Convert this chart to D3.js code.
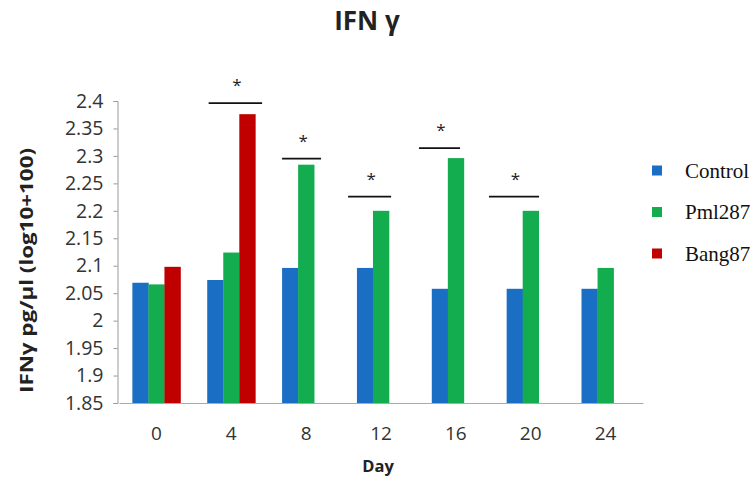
<!DOCTYPE html>
<html>
<head>
<meta charset="utf-8">
<script src="https://cdn.jsdelivr.net/npm/d3@7"></script>
<style>
  html, body { margin: 0; padding: 0; background: #fff; }
  svg { display: block; }
</style>
</head>
<body>
<svg id="chart" width="753" height="481"></svg>
<script>
// IFN-γ levels per sampling day for each group
const days = ["0", "4", "8", "12", "16", "20", "24"];
const seriesNames = ["Control", "Pml287", "Bang87"];
const controlValues = [2.069, 2.074, 2.096, 2.096, 2.058, 2.058, 2.058];
const pml287Values  = [2.066, 2.124, 2.284, 2.200, 2.296, 2.200, 2.096];
const bang87Values  = [2.098, 2.376, null, null, null, null, null];
const yTickValues = [1.85, 1.9, 1.95, 2, 2.05, 2.1, 2.15, 2.2, 2.25, 2.3, 2.35, 2.4];
const yTickLabels = ["1.85", "1.9", "1.95", "2", "2.05", "2.1", "2.15", "2.2", "2.25", "2.3", "2.35", "2.4"];
// significance markers: day and bracket level (in axis units)
const sigDays = ["4", "8", "12", "16", "20"];
const sigLevels = [2.396, 2.295, 2.226, 2.314, 2.226];

const seriesValues = [controlValues, pml287Values, bang87Values];
const colors = ["#1a6fc4", "#13ad4f", "#c00000"];

const svg = d3.select("#chart");

const x = d3.scaleBand().domain(days).range([119, 643])
  .paddingInner(0.357).paddingOuter(0.1785);
const xs = d3.scaleBand().domain(seriesNames).range([0, x.bandwidth()]);
const y = d3.scaleLinear().domain([1.85, 2.4]).range([403, 101]);

// bars
const rows = [];
days.forEach((d, i) => seriesNames.forEach((s, j) => {
  const v = seriesValues[j][i];
  if (v != null) rows.push({ day: d, series: s, value: v, color: colors[j] });
}));
svg.append("g").selectAll("rect").data(rows).join("rect")
  .attr("x", d => x(d.day) + xs(d.series))
  .attr("y", d => y(d.value))
  .attr("width", xs.bandwidth() + 0.3)
  .attr("height", d => y(1.85) - y(d.value))
  .attr("fill", d => d.color);

// y axis
const yAxis = d3.axisLeft(y).tickValues(yTickValues)
  .tickFormat((d, i) => yTickLabels[i]).tickSize(4).tickPadding(10);
const gy = svg.append("g").attr("transform", "translate(117.5,0)").call(yAxis);
gy.select(".domain").attr("stroke", "#999").attr("stroke-width", 1);
gy.selectAll(".tick line").attr("stroke", "#999");
gy.selectAll(".tick text").attr("font-family", "Open Sans, sans-serif")
  .attr("font-size", 19.5).attr("fill", "#333");

// x axis
const xAxis = d3.axisBottom(x).tickSize(0).tickPadding(23.5);
const gx = svg.append("g").attr("transform", "translate(0,403)").call(xAxis);
gx.select(".domain").attr("stroke", "#aaa").attr("stroke-width", 1);
gx.selectAll(".tick text").attr("font-family", "Open Sans, sans-serif")
  .attr("font-size", 19).attr("fill", "#333");

// significance brackets and asterisks (bracket ends in bar-width units from the group start)
const sigSpans = [[0.09, 3.42], [0.0, 2.43], [-0.55, 2.13], [-0.8, 1.76], [-1.1, 2.02]];
const bw = xs.bandwidth();
const sig = sigDays.map((d, i) => ({
  level: sigLevels[i],
  x1: x(d) + sigSpans[i][0] * bw,
  x2: x(d) + sigSpans[i][1] * bw
}));
const sg = svg.append("g");
sg.selectAll("line").data(sig).join("line")
  .attr("x1", d => d.x1).attr("x2", d => d.x2)
  .attr("y1", d => y(d.level)).attr("y2", d => y(d.level))
  .attr("stroke", "#111").attr("stroke-width", 1.8);
sg.selectAll("text").data(sig).join("text")
  .attr("x", d => (d.x1 + d.x2) / 2 + 1.5)
  .attr("y", d => y(d.level) - 12)
  .attr("text-anchor", "middle")
  .attr("font-family", "Open Sans, sans-serif").attr("font-size", 17)
  .attr("fill", "#222").text("*");

// titles
svg.append("text").attr("x", 367).attr("y", 30).attr("text-anchor", "middle")
  .attr("font-family", "Open Sans, sans-serif").attr("font-weight", "bold")
  .attr("font-size", 26).attr("fill", "#222").text("IFN γ");
svg.append("text").attr("x", 378).attr("y", 472).attr("text-anchor", "middle")
  .attr("font-family", "Open Sans, sans-serif").attr("font-weight", "bold")
  .attr("font-size", 16.5).attr("fill", "#222").text("Day");
svg.append("text").attr("transform", "translate(33,270.5) rotate(-90)")
  .attr("text-anchor", "middle")
  .attr("font-family", "Open Sans, sans-serif").attr("font-weight", "bold")
  .attr("font-size", 17.5).attr("fill", "#222")
  .attr("textLength", 245).attr("lengthAdjust", "spacingAndGlyphs")
  .text("IFNγ pg/µl (log10+100)");

// legend
const lg = svg.append("g").selectAll("g").data(seriesNames).join("g")
  .attr("transform", (d, i) => `translate(652,${170.5 + i * 41.5})`);
lg.append("rect").attr("x", 0).attr("y", -5).attr("width", 10).attr("height", 10)
  .attr("fill", (d, i) => colors[i]);
lg.append("text").attr("x", 33).attr("y", 7)
  .attr("font-family", "Liberation Serif, Times New Roman, serif")
  .attr("font-size", 21).attr("fill", "#111").text(d => d);
</script>
</body>
</html>
